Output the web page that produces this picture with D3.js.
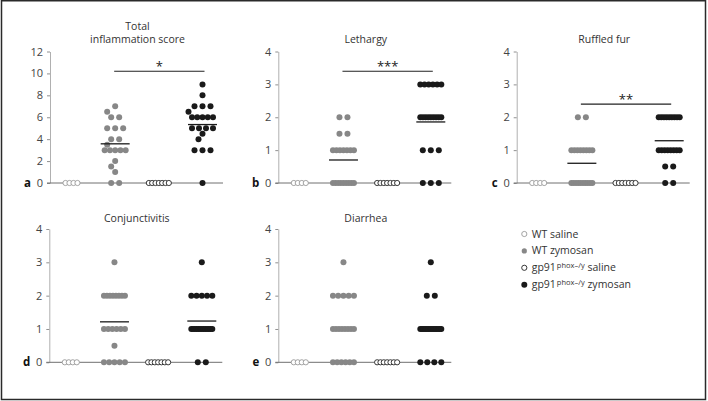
<!DOCTYPE html>
<html><head><meta charset="utf-8">
<script src="https://cdn.jsdelivr.net/npm/d3@7"></script>
<style>
body{margin:0;background:#fff}
svg{display:block}
text{font-family:"Open Sans",sans-serif;white-space:pre}
</style>
</head><body>
<svg id="chart" width="708" height="401"></svg>
<script>
// ---------- data ----------
const groupNames = ["WT saline", "WT zymosan", "gp91 saline", "gp91 zymosan"];
const panelLetters = ["a", "b", "c", "d", "e"];
const panelTitles = [["Total", "inflammation score"], ["Lethargy"], ["Ruffled fur"], ["Conjunctivitis"], ["Diarrhea"]];
const yMaxes = [12, 4, 4, 4, 4];
const yTicksTotal = [0, 2, 4, 6, 8, 10, 12];
const yTicksScore = [0, 1, 2, 3, 4];

const salineWT = [0, 0, 0, 0];
const salineGp91 = [0, 0, 0, 0, 0, 0, 0];

const totalWT = [7, 6.5, 6, 6, 5, 5, 5, 4, 4, 3.5, 3, 3, 3, 3, 3, 2, 1.5, 1, 0, 0];
const totalGp91 = [9, 8, 7, 7, 7, 6.5, 6, 6, 6, 6, 6, 5, 5, 5, 5, 4.5, 4, 3, 3, 3, 0];
const lethargyWT = [2, 2, 1.5, 1.5, 1, 1, 1, 1, 1, 1, 1, 0, 0, 0, 0, 0, 0, 0, 0, 0];
const lethargyGp91 = [3, 3, 3, 3, 3, 3, 2, 2, 2, 2, 2, 2, 2, 2, 2, 1, 1, 1, 0, 0, 0];
const ruffledWT = [2, 2, 1, 1, 1, 1, 1, 1, 1, 1, 0, 0, 0, 0, 0, 0, 0, 0, 0, 0];
const ruffledGp91 = [2, 2, 2, 2, 2, 2, 2, 2, 2, 1, 1, 1, 1, 1, 1, 1, 1, 0.5, 0.5, 0, 0];
const conjWT = [3, 2, 2, 2, 2, 2, 2, 2, 2, 1, 1, 1, 1, 1, 1, 0.5, 0, 0, 0, 0, 0];
const conjGp91 = [3, 2, 2, 2, 2, 2, 1, 1, 1, 1, 1, 1, 1, 1, 1, 1, 1, 1, 1, 0, 0];
const diarWT = [3, 2, 2, 2, 2, 2, 1, 1, 1, 1, 1, 1, 1, 1, 0, 0, 0, 0, 0, 0];
const diarGp91 = [3, 2, 2, 1, 1, 1, 1, 1, 1, 1, 1, 1, 1, 1, 1, 1, 1, 0, 0, 0, 0];

const zymWT = [totalWT, lethargyWT, ruffledWT, conjWT, diarWT];
const zymGp91 = [totalGp91, lethargyGp91, ruffledGp91, conjGp91, diarGp91];

const sigLabels = ["*", "***", "**", null, null];
const sigLevels = [10.2, 3.4, 2.4, null, null];
const showMean = [true, true, true, true, false];

const legendMain = ["WT saline", "WT zymosan", "gp91", "gp91"];
const legendSup = [null, null, "phox\u2013/y", "phox\u2013/y"];
const legendTail = ["", "", " saline", " zymosan"];

// ---------- styles ----------
const groupStyle = [
  {open: true, stroke: "#9a9a9a", fill: "#fff", r: 2.6},
  {open: false, stroke: "none", fill: "#878787", r: 3},
  {open: true, stroke: "#222", fill: "#fff", r: 2.6},
  {open: false, stroke: "none", fill: "#1a1a1a", r: 3}
];

const layout = [
  {axisX: 50, y0: 183, yTop: 51.5},
  {axisX: 278.3, y0: 183, yTop: 51.5},
  {axisX: 516.7, y0: 183, yTop: 51.5},
  {axisX: 49.3, y0: 362.3, yTop: 229},
  {axisX: 278.3, y0: 362.3, yTop: 229}
];

const svg = d3.select("#chart");

// frame
svg.append("rect").attr("x", 1.5).attr("y", 0.75).attr("width", 704).attr("height", 398.75)
  .attr("fill", "none").attr("stroke", "#2a2a2a").attr("stroke-width", 1.5);

function placeGroup(values, cx, y, saline) {
  const rows = Array.from(d3.group(values, v => v), ([v, arr]) => ({v, n: arr.length}));
  rows.sort((a, b) => d3.descending(a.n, b.n) || d3.descending(a.v, b.v));
  const placed = [];
  const shifts = [0, -4, 4, -8, 8, -11, 11, -14, 14];
  rows.forEach(row => {
    const n = row.n;
    const s = saline ? (n > 1 ? Math.min(4, 20 / (n - 1)) : 0) : (n > 1 ? Math.min(8, 21 / (n - 1)) : 0);
    const base = d3.range(n).map(i => (i - (n - 1) / 2) * s);
    const yy = y(row.v);
    let chosen = 0;
    if (n <= 2) {
      for (const sh of shifts) {
        const ok = base.every(o => placed.every(p => {
          const dx = cx + o + sh - p.x, dy = yy - p.y;
          return Math.abs(dy) < 0.1 ? true : Math.hypot(dx, dy) >= 6;
        }));
        if (ok) { chosen = sh; break; }
      }
    }
    base.forEach(o => placed.push({x: cx + o + chosen, y: yy, v: row.v}));
  });
  return placed;
}

layout.forEach((L, pi) => {
  const g = svg.append("g");
  const y = d3.scaleLinear().domain([0, yMaxes[pi]]).range([L.y0, L.yTop]);
  const x = d3.scalePoint().domain(groupNames).range([L.axisX + 21.5, L.axisX + 152.5]);

  // y axis
  const ax = g.append("g").attr("transform", `translate(${L.axisX},0)`)
    .call(d3.axisLeft(y).tickValues(pi === 0 ? yTicksTotal : yTicksScore).tickSize(3).tickSizeOuter(0).tickPadding(4).tickFormat(d3.format("d")));
  ax.select(".domain").attr("stroke", "#b0b0b0").attr("stroke-width", 1);
  ax.selectAll(".tick line").attr("stroke", "#909090");
  ax.selectAll(".tick text").attr("fill", "#444").style("font-size", "11px").style("font-family", "'Open Sans',sans-serif");

  // x axis baseline
  g.append("line").attr("x1", L.axisX - 3).attr("x2", L.axisX + 173)
    .attr("y1", y(0)).attr("y2", y(0)).attr("stroke", "#707070").attr("stroke-width", 1);

  // panel letter
  g.append("text").attr("x", L.axisX - 19).attr("y", y(0) + 4).attr("text-anchor", "end")
    .style("font-size", "11.5px").style("font-weight", "bold").attr("fill", "#111").text(panelLetters[pi]);

  // title
  const titles = panelTitles[pi];
  titles.forEach((t, i) => {
    g.append("text").attr("x", L.axisX + 87.5)
      .attr("y", (L.y0 === 183 ? 42.7 : 221.7) - (titles.length - 1 - i) * 12.7)
      .attr("text-anchor", "middle").style("font-size", "10.5px").attr("fill", "#333").text(t);
  });

  const groupsData = [salineWT, zymWT[pi], salineGp91, zymGp91[pi]];
  groupsData.forEach((vals, gi) => {
    const st = groupStyle[gi];
    const pts = placeGroup(vals, x(groupNames[gi]), y, st.open);
    g.append("g").selectAll("circle").data(pts).join("circle")
      .attr("cx", d => d.x).attr("cy", d => d.y).attr("r", st.r)
      .attr("fill", st.fill).attr("stroke", st.stroke).attr("stroke-width", st.open ? 0.9 : 0);
    if (showMean[pi] && !st.open) {
      const m = d3.mean(vals);
      g.append("line").attr("x1", x(groupNames[gi]) - 14.5).attr("x2", x(groupNames[gi]) + 14.5)
        .attr("y1", y(m)).attr("y2", y(m)).attr("stroke", "#1a1a1a").attr("stroke-width", 1.3);
    }
  });

  if (sigLabels[pi]) {
    const ly = y(sigLevels[pi]);
    const x1 = x(groupNames[1]) - 1, x2 = x(groupNames[3]) + 2;
    g.append("line").attr("x1", x1).attr("x2", x2).attr("y1", ly).attr("y2", ly)
      .attr("stroke", "#222").attr("stroke-width", 1.2);
    g.append("text").attr("x", (x1 + x2) / 2).attr("y", ly - 0.5).attr("text-anchor", "middle")
      .style("font-size", "13px").attr("fill", "#222").text(sigLabels[pi]);
  }
});

// legend
const legend = svg.append("g");
legendMain.forEach((lab, i) => {
  const by = 237.5 + i * 16.9;
  const st = groupStyle[i];
  legend.append("circle").attr("cx", 524.3).attr("cy", by - 3.5).attr("r", i === 3 ? 3 : 2.6)
    .attr("fill", st.fill).attr("stroke", st.stroke).attr("stroke-width", st.open ? 0.9 : 0);
  const t = legend.append("text").attr("x", 531.7).attr("y", by).style("font-size", "10.5px").attr("fill", "#333");
  t.append("tspan").text(lab);
  if (legendSup[i]) {
    t.append("tspan").attr("dx", 1).attr("dy", -3.5).style("font-size", "7.5px").text(legendSup[i]);
    t.append("tspan").attr("dy", 3.5).style("font-size", "10.5px").text(legendTail[i]);
  }
});
</script>
</body></html>
